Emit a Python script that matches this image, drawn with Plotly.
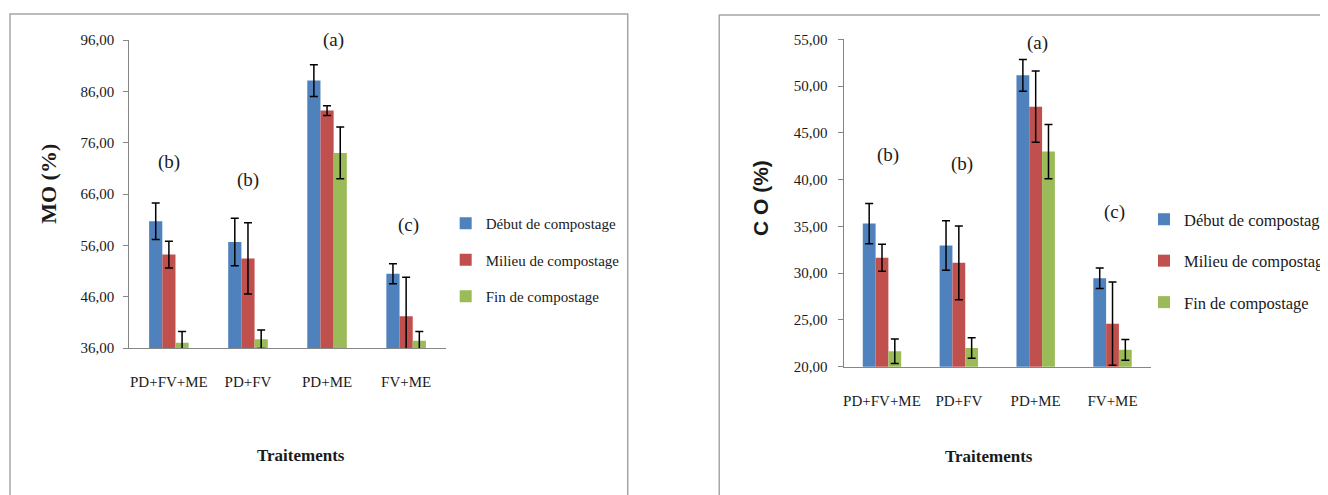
import plotly.graph_objects as go

categories = ["PD+FV+ME", "PD+FV", "PD+ME", "FV+ME"]
series_names = ["Début de compostage", "Milieu de compostage", "Fin de compostage"]
colors = ["#4F81BD", "#C0504D", "#9BBB59"]

# MO (%)
mo_debut = [60.7, 56.65, 88.1, 50.45]
mo_debut_err = [3.55, 4.65, 3.1, 1.95]
mo_milieu = [54.2, 53.45, 82.25, 42.2]
mo_milieu_err = [2.6, 6.95, 0.95, 7.6]
mo_fin = [37.0, 37.7, 74.0, 37.4]
mo_fin_err = [2.2, 1.8, 5.05, 1.8]
mo_letters = ["(b)", "(b)", "(a)", "(c)"]
mo_letter_y = [72.2, 68.7, 96.0, 60.0]
mo_ticks = [36, 46, 56, 66, 76, 86, 96]

# CO (%)
co_debut = [35.3, 32.95, 51.15, 29.45]
co_debut_err = [2.15, 2.65, 1.7, 1.1]
co_milieu = [31.65, 31.1, 47.8, 24.6]
co_milieu_err = [1.45, 3.95, 3.8, 4.45]
co_fin = [21.65, 22.0, 43.0, 21.8]
co_fin_err = [1.3, 1.1, 2.9, 1.1]
co_letters = ["(b)", "(b)", "(a)", "(c)"]
co_letter_y = [42.6, 41.65, 54.6, 36.5]
co_ticks = [20, 25, 30, 35, 40, 45, 50, 55]

W, H = 1328, 495
OFF = 8  # page body margin
SERIF = "Liberation Serif"
TXT = "#1a1a1a"


def px_x(p):
    return (p - OFF) / W


def px_y(p):
    return 1 - (p - OFF) / H


fig = go.Figure()

mo_series = [(mo_debut, mo_debut_err), (mo_milieu, mo_milieu_err), (mo_fin, mo_fin_err)]
co_series = [(co_debut, co_debut_err), (co_milieu, co_milieu_err), (co_fin, co_fin_err)]

for i, (vals, errs) in enumerate(mo_series):
    fig.add_trace(go.Bar(
        x=categories, y=vals, name=series_names[i],
        marker=dict(color=colors[i], line=dict(width=0)),
        error_y=dict(type="data", array=errs, visible=True, color="#000000",
                     thickness=1.5, width=4),
        xaxis="x", yaxis="y", legend="legend", legendgroup="l" + str(i),
    ))

for i, (vals, errs) in enumerate(co_series):
    fig.add_trace(go.Bar(
        x=categories, y=vals, name=series_names[i],
        marker=dict(color=colors[i], line=dict(width=0)),
        error_y=dict(type="data", array=errs, visible=True, color="#000000",
                     thickness=1.5, width=4),
        xaxis="x2", yaxis="y2", legend="legend2", legendgroup="r" + str(i),
    ))

axis_common = dict(showline=True, linecolor="#868686", linewidth=1,
                   showgrid=False, zeroline=False)

fig.update_layout(
    width=W, height=H,
    margin=dict(l=0, r=0, t=0, b=0),
    paper_bgcolor="white", plot_bgcolor="white",
    barmode="group", bargap=0.5, bargroupgap=0,
    font=dict(family=SERIF, color=TXT),
    xaxis=dict(domain=[px_x(130), px_x(448)], anchor="y", range=[-0.5, 3.5],
               ticks="", tickfont=dict(size=15, family=SERIF, color=TXT),
               ticklabelstandoff=20, automargin=False, **axis_common),
    yaxis=dict(domain=[px_y(348), px_y(40)], anchor="x", range=[36, 96],
               tickvals=mo_ticks, ticktext=[f"{v},00" for v in mo_ticks],
               ticks="outside", ticklen=5, tickcolor="#868686",
               tickfont=dict(size=15, family=SERIF, color=TXT),
               ticklabelstandoff=6, automargin=False, **axis_common),
    xaxis2=dict(domain=[px_x(848), px_x(1157)], anchor="y2", range=[-0.5, 3.5],
                ticks="", tickfont=dict(size=15, family=SERIF, color=TXT),
                ticklabelstandoff=20, automargin=False, **axis_common),
    yaxis2=dict(domain=[px_y(366.7), px_y(39.3)], anchor="x2", range=[20, 55],
                tickvals=co_ticks, ticktext=[f"{v},00" for v in co_ticks],
                ticks="outside", ticklen=5, tickcolor="#868686",
                tickfont=dict(size=15, family=SERIF, color=TXT),
                ticklabelstandoff=7, automargin=False, **axis_common),
    legend=dict(x=px_x(448), y=px_y(207), xanchor="left", yanchor="top",
                font=dict(size=15, family=SERIF, color=TXT),
                traceorder="grouped", tracegroupgap=14, itemwidth=30,
                bgcolor="rgba(0,0,0,0)"),
    legend2=dict(x=px_x(1150), y=px_y(202), xanchor="left", yanchor="top",
                 font=dict(size=16.5, family=SERIF, color=TXT),
                 traceorder="grouped", tracegroupgap=17, itemwidth=30,
                 bgcolor="rgba(0,0,0,0)"),
    showlegend=True,
)

# Panel borders
fig.add_shape(type="rect", xref="paper", yref="paper",
              x0=px_x(10), x1=px_x(631), y0=-0.1, y1=px_y(14),
              line=dict(color="#a6a6a6", width=1.5), fillcolor="rgba(0,0,0,0)", layer="below")
fig.add_shape(type="rect", xref="paper", yref="paper",
              x0=px_x(723), x1=1.1, y0=-0.1, y1=px_y(15),
              line=dict(color="#a6a6a6", width=1.5), fillcolor="rgba(0,0,0,0)", layer="below")

mo_shift = [0, 0, 6, 2]
co_shift = [6, 3, 2, 2]
for c, t, yv, s in zip(categories, mo_letters, mo_letter_y, mo_shift):
    fig.add_annotation(x=c, y=yv, xref="x", yref="y", text=t, showarrow=False,
                       xshift=s, xanchor="center", yanchor="middle",
                       font=dict(size=19, family=SERIF, color=TXT))
for c, t, yv, s in zip(categories, co_letters, co_letter_y, co_shift):
    fig.add_annotation(x=c, y=yv, xref="x2", yref="y2", text=t, showarrow=False,
                       xshift=s, xanchor="center", yanchor="middle",
                       font=dict(size=19, family=SERIF, color=TXT))

# Axis titles
fig.add_annotation(x=px_x(303), y=px_y(455), xref="paper", yref="paper",
                   text="<b>Traitements</b>", showarrow=False,
                   xanchor="center", yanchor="middle",
                   font=dict(size=17, family=SERIF, color=TXT))
fig.add_annotation(x=px_x(994), y=px_y(456), xref="paper", yref="paper",
                   text="<b>Traitements</b>", showarrow=False,
                   xanchor="center", yanchor="middle",
                   font=dict(size=17, family=SERIF, color=TXT))
fig.add_annotation(x=px_x(48), y=px_y(184), xref="paper", yref="paper",
                   text="<b>MO (%)</b>", showarrow=False, textangle=-90,
                   xanchor="center", yanchor="middle",
                   font=dict(size=22, family=SERIF, color=TXT))
fig.add_annotation(x=px_x(764), y=px_y(198), xref="paper", yref="paper",
                   text="<b>C O (%)</b>", showarrow=False, textangle=-90,
                   xanchor="center", yanchor="middle",
                   font=dict(size=21, family="Liberation Sans", color=TXT))

fig.write_html("out.html")
